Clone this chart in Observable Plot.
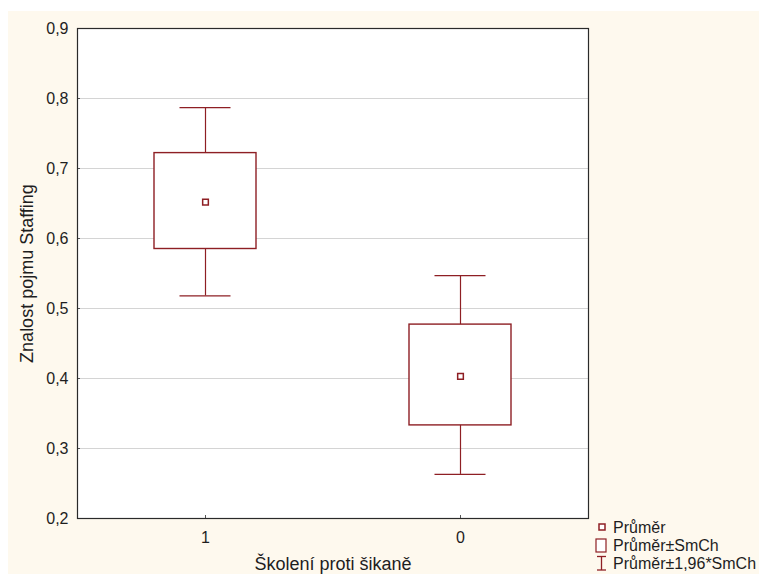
<!DOCTYPE html>
<html>
<head>
<meta charset="utf-8">
<script src="https://cdn.jsdelivr.net/npm/d3@7"></script>
<script src="https://cdn.jsdelivr.net/npm/@observablehq/plot@0.6"></script>
<style>
  html, body { margin: 0; padding: 0; background: #ffffff; }
  #wrap { position: relative; width: 760px; height: 574px; overflow: hidden; }
  #cream { position: absolute; left: 8px; top: 11px; right: 1px; bottom: 0; background: #fef9ee; }
  #chart { position: absolute; left: 0; top: 0; }
  svg { font-family: "Liberation Sans", Arial, sans-serif; }
</style>
</head>
<body>
<div id="wrap"><div id="cream"></div><div id="chart"></div></div>
<script>
// Data
const categories = ["1", "0"];
const means = [0.652, 0.403];
const seLow = [0.585, 0.333];
const seHigh = [0.722, 0.477];
const ciLow = [0.518, 0.263];
const ciHigh = [0.787, 0.547];
const yTicks = [0.2, 0.3, 0.4, 0.5, 0.6, 0.7, 0.8, 0.9];
const gridTicks = [0.3, 0.4, 0.5, 0.6, 0.7, 0.8];
const xTitle = "Školení proti šikaně";
const yTitle = "Znalost pojmu Staffing";
const legendLabels = ["Průměr", "Průměr±SmCh", "Průměr±1,96*SmCh"];

const data = categories.map((c, i) => ({
  cat: c, mean: means[i], lo: seLow[i], hi: seHigh[i], wlo: ciLow[i], whi: ciHigh[i]
}));

const RED = "#8e1f24";
const TEXT = "#1e1e1e";
const fmt = d => d.toFixed(1).replace(".", ",");

const plot = Plot.plot({
  width: 760,
  height: 574,
  marginLeft: 77,
  marginRight: 172,
  marginTop: 28,
  marginBottom: 56,
  style: { background: "transparent", fontFamily: "'Liberation Sans', Arial, sans-serif", fontSize: "16px", color: TEXT },
  x: { type: "band", domain: categories, paddingInner: 0.6, paddingOuter: 0.3 },
  y: { domain: [0.2, 0.9] },
  marks: [
    Plot.frame({ fill: "white" }),
    Plot.gridY(gridTicks, { stroke: "#d4d4d4", strokeOpacity: 1 }),
    Plot.ruleX(data, { x: "cat", y1: "wlo", y2: "whi", stroke: RED, strokeWidth: 1.2 }),
    Plot.tickY(data, { x: "cat", y: "whi", stroke: RED, strokeWidth: 1.4, insetLeft: 25.5, insetRight: 25.5 }),
    Plot.tickY(data, { x: "cat", y: "wlo", stroke: RED, strokeWidth: 1.4, insetLeft: 25.5, insetRight: 25.5 }),
    Plot.barY(data, { x: "cat", y1: "lo", y2: "hi", fill: "white", stroke: RED, strokeWidth: 1.4 }),
    Plot.dot(data, { x: "cat", y: "mean", symbol: "square", r: 3.2, fill: "white", stroke: RED, strokeWidth: 1.5 }),
    Plot.axisY(yTicks, { tickFormat: fmt, tickSize: -3, tickPadding: 12, fontSize: 16, fill: TEXT, stroke: "#555", label: null }),
    Plot.axisX({ tickSize: -3, tickPadding: 16, fontSize: 16, fill: TEXT, stroke: "#555", label: null }),
    Plot.text([yTitle], { frameAnchor: "left", dx: -50, rotate: -90, fontSize: 18, fill: TEXT, textAnchor: "middle", lineAnchor: "middle" }),
    Plot.text([xTitle], { frameAnchor: "bottom", dy: 46, fontSize: 18, fill: TEXT, textAnchor: "middle", lineAnchor: "middle" }),
    Plot.frame({ stroke: "#2a2a2a", strokeWidth: 1.2 })
  ]
});

document.getElementById("chart").appendChild(plot);

// Legend (appended into the SVG)
const svg = d3.select(plot);
const lg = svg.append("g").attr("class", "legend").attr("text-anchor", "start");
const lx = 596, rowY = [527, 545, 563];
// Row 1: mean marker
lg.append("rect").attr("x", lx + 3).attr("y", rowY[0] - 3).attr("width", 6).attr("height", 6)
  .attr("fill", "white").attr("stroke", RED).attr("stroke-width", 1.5);
// Row 2: box
lg.append("rect").attr("x", lx).attr("y", rowY[1] - 6).attr("width", 10).attr("height", 13)
  .attr("fill", "white").attr("stroke", RED).attr("stroke-width", 1.2);
// Row 3: I-beam whisker
lg.append("line").attr("x1", lx + 1).attr("x2", lx + 10).attr("y1", rowY[2] - 6.5).attr("y2", rowY[2] - 6.5).attr("stroke", RED).attr("stroke-width", 1.3);
lg.append("line").attr("x1", lx + 1).attr("x2", lx + 10).attr("y1", rowY[2] + 7).attr("y2", rowY[2] + 7).attr("stroke", RED).attr("stroke-width", 1.3);
lg.append("line").attr("x1", lx + 5.5).attr("x2", lx + 5.5).attr("y1", rowY[2] - 6.5).attr("y2", rowY[2] + 7).attr("stroke", RED).attr("stroke-width", 1.3);
legendLabels.forEach((t, i) => {
  lg.append("text").attr("x", 613).attr("y", rowY[i]).attr("dy", "0.35em")
    .attr("text-anchor", "start").attr("font-size", 16).attr("fill", TEXT).text(t);
});
</script>
</body>
</html>
